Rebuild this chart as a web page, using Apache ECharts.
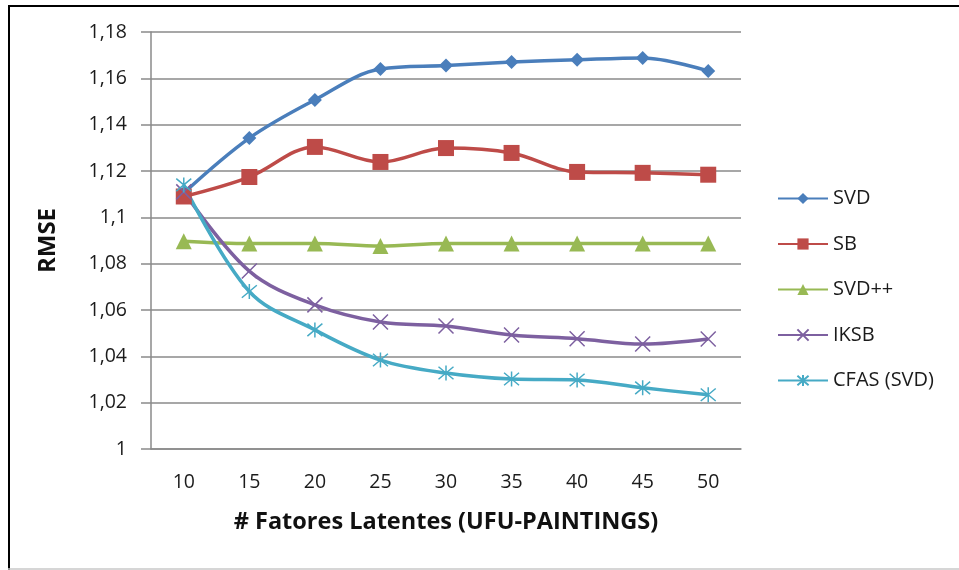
<!DOCTYPE html>
<html>
<head>
<meta charset="utf-8">
<script src="https://cdn.jsdelivr.net/npm/echarts@6/dist/echarts.min.js"></script>
<style>
  html, body { margin: 0; padding: 0; background: #ffffff; }
  #chart { width: 959px; height: 570px; }
</style>
</head>
<body>
<div id="chart"></div>
<script>
// Number of latent factors (x axis)
const factors = ['10', '15', '20', '25', '30', '35', '40', '45', '50'];

// RMSE per method
const svd     = [1.1105, 1.1342, 1.1507, 1.1640, 1.1655, 1.1670, 1.1680, 1.1688, 1.1632];
const sb      = [1.1090, 1.1174, 1.1304, 1.1239, 1.1299, 1.1278, 1.1196, 1.1192, 1.1184];
const svdpp   = [1.0897, 1.0887, 1.0887, 1.0876, 1.0887, 1.0887, 1.0887, 1.0887, 1.0887];
const iksb    = [1.1110, 1.0768, 1.0622, 1.0548, 1.0531, 1.0492, 1.0476, 1.0453, 1.0475];
const cfasSvd = [1.1140, 1.0680, 1.0514, 1.0384, 1.0328, 1.0302, 1.0298, 1.0264, 1.0234];

// Y tick labels (decimal comma), from 1 to 1,18 in steps of 0,02
const yTickLabels = ['1', '1,02', '1,04', '1,06', '1,08', '1,1', '1,12', '1,14', '1,16', '1,18'];

const FONT = '"Open Sans", Lato, sans-serif';
const TEXT = '#1b1b1b';
const GRID = '#8a8a8a';

const crossPath = 'path://M0,0L10,10M10,0L0,10';
const starPath = 'path://M0,0L10,10M10,0L0,10M5,-1L5,11';

function makeSeries(name, data, color, symbol, size, outline) {
  const s = {
    name: name,
    type: 'line',
    data: data,
    smooth: 0.35,
    symbol: symbol,
    symbolSize: size,
    showSymbol: true,
    lineStyle: { color: color, width: 3.5 },
    itemStyle: { color: color },
    emphasis: { disabled: true },
    z: 3
  };
  if (outline) {
    s.itemStyle = { color: 'rgba(0,0,0,0)', borderColor: color, borderWidth: 1.5 };
  }
  return s;
}

const chart = echarts.init(document.getElementById('chart'), null, { renderer: 'canvas' });

chart.setOption({
  animation: false,
  backgroundColor: '#ffffff',
  textStyle: { fontFamily: FONT },
  grid: { left: 151, right: 218, top: 32, bottom: 121, containLabel: false },
  xAxis: {
    type: 'category',
    data: factors,
    boundaryGap: true,
    name: '# Fatores Latentes (UFU-PAINTINGS)',
    nameLocation: 'middle',
    nameGap: 61,
    nameTextStyle: { fontFamily: FONT, fontWeight: 'bold', fontSize: 23.5, color: '#111' },
    axisLine: { show: true, lineStyle: { color: GRID, width: 1.5 } },
    axisTick: { show: false },
    axisLabel: { fontFamily: FONT, fontSize: 19.5, color: TEXT, margin: 23 },
    splitLine: { show: false }
  },
  yAxis: {
    type: 'value',
    min: 1,
    max: 1.18,
    interval: 0.02,
    name: 'RMSE',
    nameLocation: 'middle',
    nameGap: 91,
    nameRotate: 90,
    nameTextStyle: { fontFamily: FONT, fontWeight: 'bold', fontSize: 24, color: '#111' },
    axisLine: { show: true, lineStyle: { color: GRID, width: 1.5 } },
    axisTick: { show: true, inside: false, length: 10, lineStyle: { color: GRID, width: 1.5 } },
    axisLabel: {
      fontFamily: FONT, fontSize: 19.5, color: TEXT, margin: 24,
      formatter: function (v) { return yTickLabels[Math.round((v - 1) / 0.02)]; }
    },
    splitLine: { show: true, lineStyle: { color: GRID, width: 1.5 } }
  },
  legend: {
    orient: 'vertical',
    left: 777,
    top: 188.5,
    padding: 0,
    itemWidth: 50,
    itemHeight: 14,
    itemGap: 25.5,
    textStyle: { fontFamily: FONT, fontSize: 20, color: TEXT, lineHeight: 20 },
    data: ['SVD', 'SB', 'SVD++', 'IKSB', 'CFAS (SVD)']
  },
  graphic: [
    { type: 'line', shape: { x1: 9, y1: 5, x2: 9, y2: 570 }, style: { stroke: '#000', lineWidth: 2 }, silent: true },
    { type: 'line', shape: { x1: 8, y1: 6, x2: 959, y2: 6 }, style: { stroke: '#000', lineWidth: 2 }, silent: true },
    { type: 'line', shape: { x1: 8, y1: 569, x2: 959, y2: 569 }, style: { stroke: '#c8c8c8', lineWidth: 1.5 }, silent: true }
  ],
  series: [
    makeSeries('SVD', svd, '#4a7ebb', 'diamond', 14, false),
    makeSeries('SB', sb, '#be4b48', 'rect', 16, false),
    makeSeries('SVD++', svdpp, '#98b954', 'triangle', 16, false),
    makeSeries('IKSB', iksb, '#7d60a0', crossPath, 15, true),
    makeSeries('CFAS (SVD)', cfasSvd, '#46aac5', starPath, 15, true)
  ]
});
</script>
</body>
</html>
